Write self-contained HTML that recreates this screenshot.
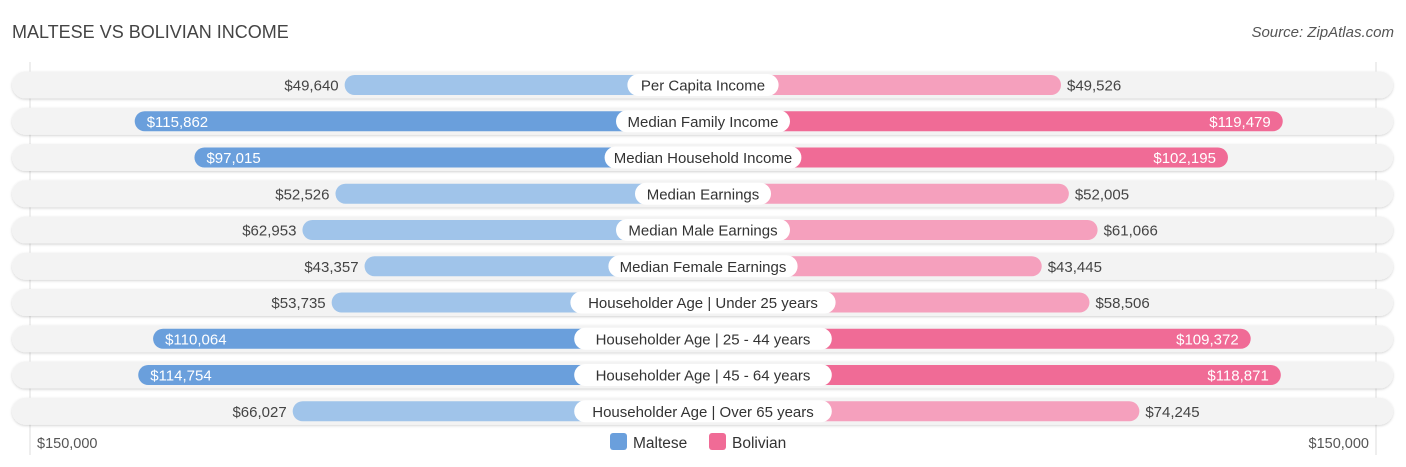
<!DOCTYPE html>
<html><head><meta charset="utf-8"><style>
body{margin:0;width:1406px;height:467px;background:#fff;font-family:"Liberation Sans",sans-serif;position:relative;overflow:hidden}
.t{position:absolute;white-space:nowrap}
</style></head><body>
<div class="t" style="left:12px;top:22px;font-size:18px;color:#444">MALTESE VS BOLIVIAN INCOME</div>
<div class="t" style="right:12px;top:24px;font-size:15px;color:#555;font-style:italic">Source: ZipAtlas.com</div>
<svg id="c" width="1406" height="467" style="position:absolute;left:0;top:0;font-family:'Liberation Sans',sans-serif"></svg>
<script>
const categories=["Per Capita Income","Median Family Income","Median Household Income","Median Earnings","Median Male Earnings","Median Female Earnings","Householder Age | Under 25 years","Householder Age | 25 - 44 years","Householder Age | 45 - 64 years","Householder Age | Over 65 years"];
const maltese=[49640,115862,97015,52526,62953,43357,53735,110064,114754,66027];
const bolivian=[49526,119479,102195,52005,61066,43445,58506,109372,118871,74245];
const axisLabels=["$150,000","$150,000"];
const svg=document.getElementById('c');const NS="http://www.w3.org/2000/svg";
const cx=703,off=201,k=0.00317;
function w(v){return off+v*k;}
function y(i){return 85+i*36.25;}
function mk(t,a,p){const e=document.createElementNS(NS,t);for(const q in a)e.setAttribute(q,a[q]);(p||svg).appendChild(e);return e;}
const fmt=v=>"$"+v.toLocaleString("en-US");
const defs=mk('defs',{});
const f=mk('filter',{id:'sh',x:'-5%',y:'-50%',width:'110%',height:'200%'},defs);
mk('feDropShadow',{dx:0,dy:1,stdDeviation:1.2,'flood-color':'#000','flood-opacity':0.18},f);
let g=mk('line',{x1:30,x2:30,y1:62,y2:455,stroke:'#ddd'});
g=mk('line',{x1:1376,x2:1376,y1:62,y2:455,stroke:'#ddd'});
categories.forEach((c,i)=>{
 const yc=y(i);
 let r=mk('rect',{x:12,y:yc-13.5,width:1381,height:27,rx:13.5,fill:'#f3f3f3',filter:'url(#sh)'});
 
 const mv=maltese[i],bv=bolivian[i];
 const md=mv>80000,bd=bv>80000;
 r=mk('rect',{x:cx-w(mv),y:yc-10,width:w(mv),height:20,rx:10,fill:md?'#6a9fdc':'#a0c4ea'});
 
 r=mk('rect',{x:cx,y:yc-10,width:w(bv),height:20,rx:10,fill:bd?'#f06b96':'#f5a0bd'});
 
 let t=mk('text',{x:md?cx-w(mv)+12:cx-w(mv)-6,y:yc+5.5,'font-size':15,fill:md?'#fff':'#444','text-anchor':md?'start':'end'});t.textContent=fmt(mv);
 
 t=mk('text',{x:bd?cx+w(bv)-12:cx+w(bv)+6,y:yc+5.5,'font-size':15,fill:bd?'#fff':'#444','text-anchor':bd?'end':'start'});t.textContent=fmt(bv);
 
 const lw=c.length*7.6+22;
 r=mk('rect',{x:cx-lw/2,y:yc-11,width:lw,height:22,rx:11,fill:'#fff'});
 
 t=mk('text',{x:cx,y:yc+5.5,'font-size':15,fill:'#333','text-anchor':'middle'});t.textContent=c;
 
});
let t=mk('text',{x:37,y:448,'font-size':14.5,fill:'#555'});t.textContent=axisLabels[0];
t=mk('text',{x:1369,y:448,'font-size':14.5,fill:'#555','text-anchor':'end'});t.textContent=axisLabels[1];
let r=mk('rect',{x:610,y:433,width:17,height:17,rx:3,fill:'#6a9fdc'});
t=mk('text',{x:633,y:448,'font-size':15.5,fill:'#333'});t.textContent='Maltese';
r=mk('rect',{x:709,y:433,width:17,height:17,rx:3,fill:'#f06b96'});
t=mk('text',{x:732,y:448,'font-size':15.5,fill:'#333'});t.textContent='Bolivian';
</script>
</body></html>
